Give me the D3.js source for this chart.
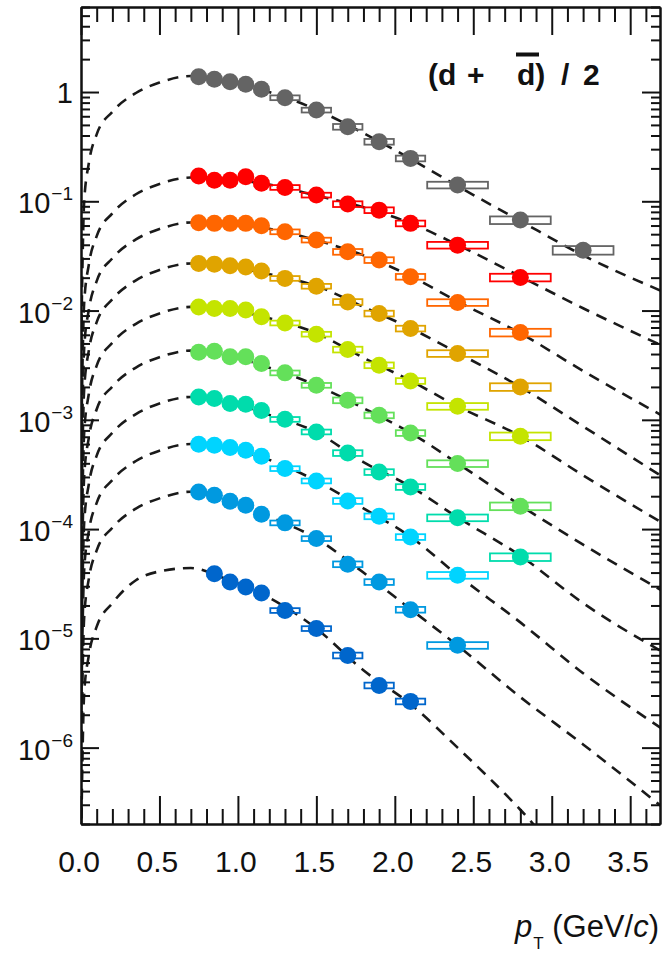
<!DOCTYPE html>
<html>
<head>
<meta charset="utf-8">
<script src="https://cdn.jsdelivr.net/npm/d3@7"></script>
<style>
  body { margin: 0; background: #fff; }
  svg { display: block; font-family: "Liberation Sans", Arial, sans-serif; }
</style>
</head>
<body>
<div id="chart"></div>
<script>
// pT bins (GeV/c)
const ptBins = [0.75, 0.85, 0.95, 1.05, 1.15, 1.3, 1.5, 1.7, 1.9, 2.1, 2.4, 2.8, 3.2]
const binLo  = [0.7, 0.8, 0.9, 1.0, 1.1, 1.2, 1.4, 1.6, 1.8, 2.0, 2.2, 2.6, 3.0]
const binHi  = [0.8, 0.9, 1.0, 1.1, 1.2, 1.4, 1.6, 1.8, 2.0, 2.2, 2.6, 3.0, 3.4]
const sysErr = [0.05, 0.05, 0.05, 0.05, 0.05, 0.05, 0.05, 0.06, 0.06, 0.06, 0.07, 0.08, 0.09]

const seriesNames  = ["s0", "s1", "s2", "s3", "s4", "s5", "s6", "s7", "s8", "s9"]
const seriesColors = ["#646464", "#ff0000", "#ff6600", "#e0a400", "#c4e400", "#64e05a", "#00dcac", "#00d4ff", "#0099e0", "#0066cc"]

// measured spectra (null = no point)
const s0 = [1.38, 1.31, 1.24, 1.18, 1.06, 0.887, 0.684, 0.481, 0.351, 0.247, 0.141, 0.0673, 0.0357]
const s1 = [0.170, 0.156, 0.156, 0.168, 0.146, 0.134, 0.114, 0.0943, 0.083, 0.0628, 0.0397, 0.0201, null]
const s2 = [0.0636, 0.0628, 0.0628, 0.0628, 0.0597, 0.0526, 0.0442, 0.0345, 0.0290, 0.0204, 0.01186, 0.0063, null]
const s3 = [0.0270, 0.0266, 0.0257, 0.0251, 0.0230, 0.0197, 0.0167, 0.0120, 0.0094, 0.00685, 0.00405, 0.0020, null]
const s4 = [0.0108, 0.01045, 0.01045, 0.0101, 0.00876, 0.0077, 0.00608, 0.0044, 0.00316, 0.00227, 0.00133, 0.000708, null]
const s5 = [0.00416, 0.00425, 0.00378, 0.00378, 0.00328, 0.00269, 0.00207, 0.00151, 0.00110, 0.000758, 0.000398, 0.000162, null]
const s6 = [0.00162, 0.00157, 0.00141, 0.00139, 0.00122, 0.00101, 0.000775, 0.000497, 0.000333, 0.000243, 0.000127, 0.0000555, null]
const s7 = [0.000598, 0.000585, 0.000557, 0.000527, 0.000465, 0.000358, 0.000276, 0.000181, 0.000131, 0.0000847, 0.0000378, null, null]
const s8 = [0.000219, 0.000204, 0.000180, 0.000165, 0.000137, 0.000114, 0.0000819, 0.0000477, 0.0000328, 0.0000183, 0.00000863, null, null]
const s9 = [null, 0.0000391, 0.0000328, 0.0000295, 0.0000260, 0.0000180, 0.0000123, 0.00000698, 0.00000371, 0.00000265, null, null, null]

// fit curves
const curvePt = [0.001, 0.02, 0.05, 0.1, 0.2, 0.35, 0.5, 0.7, 0.9, 1.2, 1.5, 1.8, 2.1, 2.4, 2.8, 3.2, 3.7]
const f0 = [0.0049, 0.098, 0.224, 0.41, 0.66, 0.98, 1.22, 1.40, 1.28, 1.0, 0.69, 0.42, 0.245, 0.138, 0.066, 0.032, 0.0151]
const f1 = [0.00058, 0.0116, 0.0264, 0.048, 0.0776, 0.116, 0.144, 0.165, 0.161, 0.142, 0.113, 0.088, 0.063, 0.040, 0.0205, 0.0105, 0.0048]
const f2 = [0.000224, 0.00448, 0.0102, 0.0186, 0.0301, 0.0448, 0.0557, 0.064, 0.063, 0.056, 0.044, 0.032, 0.0207, 0.0121, 0.0062, 0.0028, 0.0011]
const f3 = [0.0000945, 0.00189, 0.00432, 0.00783, 0.0127, 0.0189, 0.0235, 0.027, 0.0258, 0.0215, 0.0168, 0.0108, 0.0069, 0.0041, 0.0020, 0.00087, 0.000305]
const f4 = [0.0000378, 0.000756, 0.00173, 0.00313, 0.00508, 0.00756, 0.0094, 0.0108, 0.0104, 0.0085, 0.0062, 0.0037, 0.00228, 0.00133, 0.00071, 0.00031, 0.000115]
const f5 = [0.000015, 0.000301, 0.000688, 0.00125, 0.00202, 0.00301, 0.00374, 0.0043, 0.0040, 0.0030, 0.00207, 0.00128, 0.00076, 0.00040, 0.000165, 0.000072, 0.0000275]
const f6 = [0.00000567, 0.000113, 0.000259, 0.00047, 0.000761, 0.00113, 0.00141, 0.00162, 0.0015, 0.00111, 0.00077, 0.00041, 0.000245, 0.000128, 0.000057, 0.000021, 0.0000076]
const f7 = [0.0000021, 0.000042, 0.000096, 0.000174, 0.000282, 0.00042, 0.000522, 0.0006, 0.00056, 0.00043, 0.000276, 0.000155, 0.000085, 0.000038, 0.000014, 0.0000048, 0.0000015]
const f8 = [0.00000077, 0.0000154, 0.0000352, 0.0000638, 0.000103, 0.000154, 0.000191, 0.00022, 0.000195, 0.00013, 0.000082, 0.00004, 0.0000185, 0.0000086, 0.0000029, 0.00000107, 0.00000029]
const f9 = [0.00000015, 0.0000031, 0.000007, 0.0000128, 0.000021, 0.000034, 0.000041, 0.000044, 0.000036, 0.0000235, 0.0000123, 0.0000051, 0.0000025, 0.000001, 0.00000027, 0.00000006, 0.000000015]

const points = [s0, s1, s2, s3, s4, s5, s6, s7, s8, s9]
const fits = [f0, f1, f2, f3, f4, f5, f6, f7, f8, f9]

const xMajor = [0, 0.5, 1.0, 1.5, 2.0, 2.5, 3.0, 3.5]
const yMajorExp = [0, -1, -2, -3, -4, -5, -6]

const W = 662, H = 953
const frame = {left: 81, right: 660, top: 7, bottom: 824}

const svg = d3.select("#chart").append("svg")
    .attr("width", W)
    .attr("height", H)

const x = d3.scaleLinear().domain([0, 3.69]).range([frame.left, frame.right])
const y = d3.scaleLog().domain([2e-7, 6]).range([frame.bottom, frame.top])

svg.append("clipPath").attr("id", "clip")
    .append("rect")
    .attr("x", frame.left).attr("y", frame.top)
    .attr("width", frame.right - frame.left).attr("height", frame.bottom - frame.top)

// fit curves
const line = d3.line()
    .x(d => x(d[0]))
    .y(d => y(d[1]))
    .curve(d3.curveMonotoneX)

svg.append("g")
    .attr("clip-path", "url(#clip)")
    .selectAll("path")
    .data(fits)
    .join("path")
    .attr("d", f => line(curvePt.map((p, i) => [p, f[i]])))
    .attr("fill", "none")
    .attr("stroke", "#1a1a1a")
    .attr("stroke-width", 2.6)
    .attr("stroke-dasharray", "11,8")

// systematic boxes + markers
points.forEach((vals, k) => {
    const g = svg.append("g").attr("class", seriesNames[k])
    const pts = vals.map((v, i) => ({v, i})).filter(d => d.v != null)

    g.selectAll("rect")
        .data(pts)
        .join("rect")
        .attr("x", d => x(binLo[d.i]) + 1)
        .attr("width", d => x(binHi[d.i]) - x(binLo[d.i]) - 2)
        .attr("y", d => y(d.v * (1 + sysErr[d.i])))
        .attr("height", d => y(d.v * (1 - sysErr[d.i])) - y(d.v * (1 + sysErr[d.i])))
        .attr("fill", "none")
        .attr("stroke", seriesColors[k])
        .attr("stroke-width", 1.8)

    g.selectAll("circle")
        .data(pts)
        .join("circle")
        .attr("cx", d => x(ptBins[d.i]))
        .attr("cy", d => y(d.v))
        .attr("r", 8.5)
        .attr("fill", seriesColors[k])
})

// axes, ROOT style (ticks inside, on all four sides)
const xMinor = d3.range(0, 37).map(i => i / 10).filter(v => !xMajor.some(m => Math.abs(m - v) < 1e-6))
const yMinor = []
for (let e = -7; e <= 0; e++) for (let m = 2; m <= 9; m++) {
    const v = m * Math.pow(10, e)
    if (v >= 2e-7 && v <= 6) yMinor.push(v)
}
const yMajor = yMajorExp.map(e => Math.pow(10, e))

function styleAxis(g) {
    g.selectAll("path").attr("stroke", "#111").attr("stroke-width", 2)
    g.selectAll("line").attr("stroke", "#111").attr("stroke-width", 2)
    g.selectAll("text").remove()
}

svg.append("g").attr("transform", `translate(0,${frame.bottom})`)
    .call(d3.axisBottom(x).tickValues(xMajor).tickSize(-28).tickSizeOuter(0)).call(styleAxis)
svg.append("g").attr("transform", `translate(0,${frame.bottom})`)
    .call(d3.axisBottom(x).tickValues(xMinor).tickSize(-15).tickSizeOuter(0)).call(styleAxis)
svg.append("g").attr("transform", `translate(0,${frame.top})`)
    .call(d3.axisTop(x).tickValues(xMajor).tickSize(-28).tickSizeOuter(0)).call(styleAxis)
svg.append("g").attr("transform", `translate(0,${frame.top})`)
    .call(d3.axisTop(x).tickValues(xMinor).tickSize(-15).tickSizeOuter(0)).call(styleAxis)

svg.append("g").attr("transform", `translate(${frame.left},0)`)
    .call(d3.axisLeft(y).tickValues(yMajor).tickSize(-18).tickSizeOuter(0)).call(styleAxis)
svg.append("g").attr("transform", `translate(${frame.left},0)`)
    .call(d3.axisLeft(y).tickValues(yMinor).tickSize(-9).tickSizeOuter(0)).call(styleAxis)
svg.append("g").attr("transform", `translate(${frame.right},0)`)
    .call(d3.axisRight(y).tickValues(yMajor).tickSize(-18).tickSizeOuter(0)).call(styleAxis)
svg.append("g").attr("transform", `translate(${frame.right},0)`)
    .call(d3.axisRight(y).tickValues(yMinor).tickSize(-9).tickSizeOuter(0)).call(styleAxis)

// x tick labels
svg.append("g")
    .selectAll("text")
    .data(xMajor)
    .join("text")
    .attr("x", d => x(d) - 2)
    .attr("y", 872)
    .attr("text-anchor", "middle")
    .style("font-size", "30px")
    .attr("fill", "#111")
    .text(d => d.toFixed(1))

// y tick labels
const yl = svg.append("g")
    .selectAll("text")
    .data(yMajorExp)
    .join("text")
    .attr("x", 73)
    .attr("y", d => y(Math.pow(10, d)) + (d === 0 ? 11 : 12))
    .attr("text-anchor", "end")
    .style("font-size", "29px")
    .attr("fill", "#111")

yl.each(function(d) {
    const t = d3.select(this)
    if (d === 0) { t.text("1"); return }
    t.append("tspan").text("10")
    t.append("tspan").attr("dy", -13).attr("dx", 1).style("font-size", "19px").text("\u2212" + (-d))
})

// axis title
const xt = svg.append("text")
    .attr("x", 659)
    .attr("y", 937)
    .attr("text-anchor", "end")
    .style("font-size", "31px")
    .attr("fill", "#111")
xt.append("tspan").style("font-style", "italic").text("p")
xt.append("tspan").attr("dy", 12).attr("dx", 1).style("font-size", "17px").text("T")
xt.append("tspan").attr("dy", -12).text(" (GeV/")
xt.append("tspan").style("font-style", "italic").text("c")
xt.append("tspan").text(")")

// species label
const lab = svg.append("text")
    .attr("y", 85)
    .style("font-size", "30px")
    .style("font-weight", "bold")
    .attr("fill", "#111")
lab.append("tspan").attr("x", 428).text("(d")
lab.append("tspan").attr("x", 467).text("+")
lab.append("tspan").attr("x", 517).text("d)")
lab.append("tspan").attr("x", 561).text("/")
lab.append("tspan").attr("x", 583).text("2")
svg.append("line")
    .attr("x1", 516).attr("x2", 539)
    .attr("y1", 54.5).attr("y2", 54.5)
    .attr("stroke", "#111")
    .attr("stroke-width", 4)
</script>
</body>
</html>
